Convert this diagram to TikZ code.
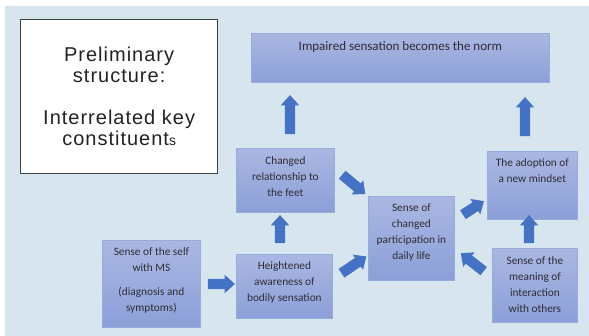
\documentclass[tikz,border=0pt]{standalone}
\usepackage{fontspec}
\setmainfont{Carlito}
\newfontfamily\titlefont[LetterSpace=5]{Liberation Sans}
\usetikzlibrary{shapes.arrows}
\definecolor{bgblue}{RGB}{215,230,238}
\definecolor{boxtop}{RGB}{171,183,226}
\definecolor{boxbot}{RGB}{139,159,216}
\definecolor{boxline}{RGB}{150,172,216}
\definecolor{arrowblue}{RGB}{68,114,196}
\definecolor{txt}{RGB}{45,45,52}
\definecolor{titletxt}{RGB}{35,35,35}
\begin{document}
\begin{tikzpicture}[x=1pt,y=-1pt,
  panel/.style={draw=boxline, line width=0.8pt, top color=boxtop, bottom color=boxbot, inner sep=0pt, anchor=north west},
  boxtext/.style={text=txt, font=\fontsize{11.3}{16}\selectfont, align=center, inner sep=0pt, anchor=north},
  blockarrow/.style={single arrow, fill=arrowblue, draw=none, inner xsep=0pt, inner ysep=5pt,
    single arrow head extend=4pt, single arrow tip angle=84, minimum width=0pt}]
\useasboundingbox (0,0) rectangle (589,336);
\fill[white] (0,0) rectangle (589,336);
\fill[bgblue] (5,6) rectangle (589,336);

% title box
\node[draw={rgb,255:red,64;green,64;blue,64}, line width=1.3pt, fill=white, minimum width=197pt, minimum height=154pt, anchor=north west, inner sep=0pt] (title) at (20,19) {};
\node[text=titletxt, align=center, inner sep=0pt, font=\titlefont\fontsize{20}{21}\selectfont] (titleT) at (title.center)
  {Preliminary\\structure:\\[21pt]Interrelated key\\constituent{\fontsize{14}{14}\selectfont s}};

% panels
\node[panel, minimum width=298pt, minimum height=49pt] (impaired) at (251,33) {};
\node[panel, minimum width=98pt, minimum height=64pt] (changed) at (236,148) {};
\node[panel, minimum width=98pt, minimum height=87pt] (self) at (102,240) {};
\node[panel, minimum width=96pt, minimum height=64pt] (heightened) at (236,254) {};
\node[panel, minimum width=86pt, minimum height=84pt] (sense) at (368,196) {};
\node[panel, minimum width=90pt, minimum height=68pt] (adoption) at (487,151) {};
\node[panel, minimum width=85pt, minimum height=74pt] (meaning) at (492,248) {};

% texts
\node[boxtext, font=\fontsize{13}{16}\selectfont] (impairedT) at ([yshift=-4pt]impaired.north) {\rule{0pt}{13pt}Impaired sensation becomes the norm};
\node[boxtext] (changedT) at ([yshift=-5pt]changed.north) {\rule{0pt}{11pt}Changed\\relationship to\\the feet};
\node[boxtext] (selfT) at ([yshift=-4pt]self.north) {\rule{0pt}{11pt}Sense of the self\\with MS\\[8pt](diagnosis and\\symptoms)};
\node[boxtext] (heightenedT) at ([yshift=-4pt]heightened.north) {\rule{0pt}{11pt}Heightened\\awareness of\\bodily sensation};
\node[boxtext] (senseT) at ([yshift=-4pt]sense.north) {\rule{0pt}{11pt}Sense of\\changed\\participation in\\daily life};
\node[boxtext] (adoptionT) at ([yshift=-4pt]adoption.north) {\rule{0pt}{11pt}The adoption of\\a new mindset};
\node[boxtext] (meaningT) at ([yshift=-5pt]meaning.north) {\rule{0pt}{11pt}Sense of the\\meaning of\\interaction\\with others};

% block arrows
\node[blockarrow, minimum height=39pt, rotate=90] (a1) at (290,117.5) {};
\node[blockarrow, minimum height=39pt, rotate=90] (a2) at (525,119.5) {};
\node[blockarrow, minimum height=28pt, rotate=90] (a3) at (280,232) {};
\node[blockarrow, minimum height=28pt, rotate=90] (a4) at (529,232) {};
\node[blockarrow, minimum height=27pt] (a5) at (218.5,284) {};
\node[blockarrow, minimum height=30pt, rotate=-40] (a6) at (351.5,182.5) {};
\node[blockarrow, minimum height=30pt, rotate=34] (a7) at (351.5,266.5) {};
\node[blockarrow, minimum height=25pt, rotate=33] (a8) at (471,209.5) {};
\node[blockarrow, minimum height=29pt, rotate=142] (a9) at (474.5,264) {};
\end{tikzpicture}
\end{document}
